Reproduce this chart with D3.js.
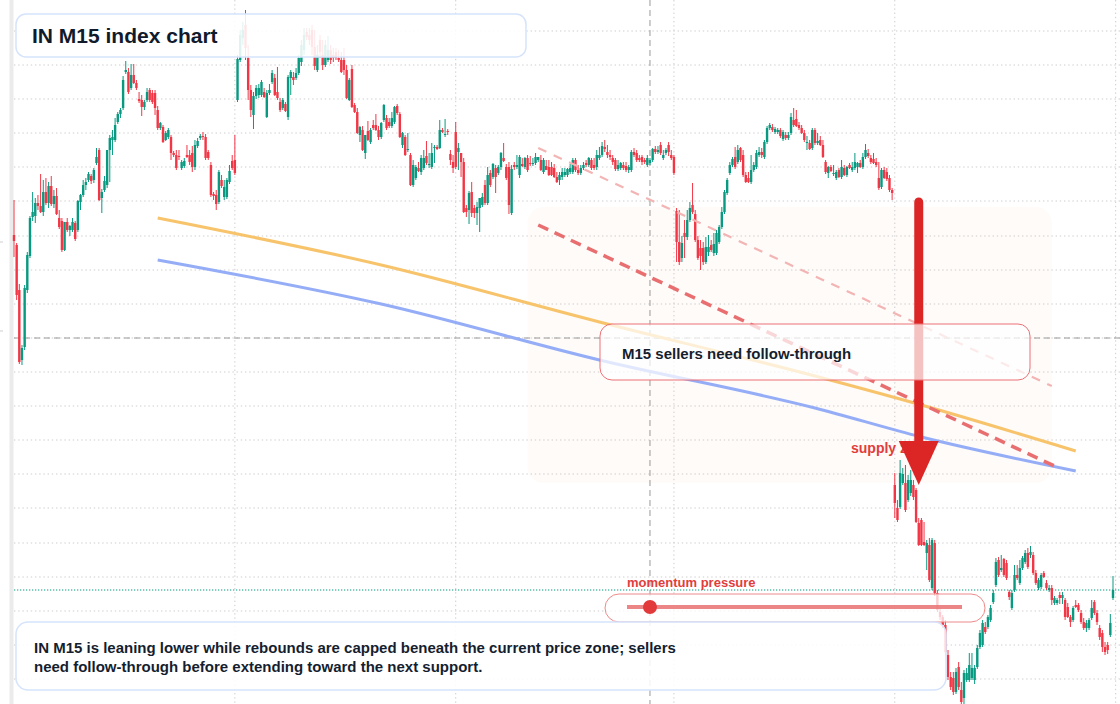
<!DOCTYPE html>
<html><head><meta charset="utf-8">
<script src="https://cdn.jsdelivr.net/npm/d3@7"></script>
<style>html,body{margin:0;padding:0;background:#fff;overflow:hidden}svg{display:block;font-family:"Liberation Sans",Arial,Helvetica,sans-serif}</style>
</head><body><svg id="chart" width="1120" height="704"></svg>
<script>
// ---- M15 candles (index points) ----
const open = [
765,755,710,640,653,710,744,783,784,797,794,788,808,797,814,796,804,782,779,750,
778,770,770,777,770,798,805,815,820,824,820,837,850,802,810,815,850,860,860,878,
886,892,928,928,912,925,917,901,900,893,900,910,907,907,890,872,873,860,863,863,
847,845,844,832,834,845,845,847,833,854,862,864,863,848,835,806,805,798,820,803,
803,818,839,840,900,940,962,975,942,910,885,904,905,905,908,883,907,918,922,908,
898,892,896,883,922,
923,922,927,938,950,968,965,970,953,930,960,945,935,940,950,945,948,942,940,940,
930,900,931,895,888,865,870,847,869,858,875,875,870,863,880,882,878,874,878,894,
886,855,863,850,845,815,822,832,828,832,844,835,833,852,853,852,870,865,869,846,
838,868,848,847,838,792,790,808,792,787,792,795,815,797,827,823,832,827,833,842,
833,833,787,835,833,825,836,833,842,837,836,837,840,840,828,834,833,833,832,823,
820,823,825,
825,828,828,840,830,827,832,837,835,840,835,833,842,845,853,848,845,842,840,831,
832,835,834,830,830,848,847,842,843,840,835,837,840,851,848,855,842,847,855,845,
843,789,758,742,767,763,780,795,786,760,752,752,738,748,755,747,747,758,773,788,
807,827,835,843,838,852,845,825,822,818,830,833,845,848,843,858,872,873,868,868,
870,861,865,862,867,880,881,875,872,867,857,857,852,870,857,860,855,838,827,833,
826,822,830,823,832,825,835,830,832,833,837,833,843,847,842,841,838,822,813,830,
828,822,810,
515,492,493,517,517,500,507,515,510,477,480,458,447,455,412,457,407,388,383,375,
345,323,322,308,333,310,302,320,320,322,320,333,353,355,373,373,380,398,415,440,
430,441,437,408,392,410,425,417,432,438,447,445,445,427,412,413,427,417,410,412,
397,397,405,402,400,393,383,380,395,395,387,378,372,372,382,398,387,372,367,353,
355,365,402];
const high = [
800,757,716,655,715,748,784,808,802,805,826,820,822,818,824,810,812,790,782,778,
782,775,782,779,800,806,820,822,828,826,832,852,852,811,824,850,865,870,882,888,
892,924,939,932,936,936,920,908,905,900,912,912,910,910,894,878,875,869,872,865,
849,850,850,840,842,855,850,854,860,862,866,868,866,850,838,808,810,830,825,820,
822,835,845,865,945,970,978,990,955,915,908,915,916,920,912,910,916,930,926,933,
902,902,898,925,930,
928,932,945,960,972,972,972,975,970,955,965,960,960,964,955,952,952,950,948,952,
935,922,935,897,892,874,874,865,879,872,880,886,874,878,896,885,882,888,894,896,
888,868,865,867,847,840,835,838,845,850,859,847,857,855,855,880,872,881,871,850,
845,878,857,847,842,795,809,818,795,798,802,807,820,833,830,837,835,835,848,857,
836,838,835,838,845,845,842,843,845,844,842,847,843,845,842,840,840,838,836,828,
828,832,832,
832,836,842,842,835,835,838,840,843,842,842,850,853,858,860,855,850,845,842,840,
838,838,838,835,850,852,850,845,845,842,845,842,852,854,854,858,850,852,858,850,
845,792,790,764,780,790,798,817,790,764,760,758,763,765,760,767,770,775,793,810,
822,838,843,853,855,853,850,828,828,845,838,850,853,852,860,874,877,876,873,872,
872,870,868,868,887,892,890,878,875,870,864,860,872,872,867,864,860,840,834,835,
835,830,832,840,835,834,837,838,847,838,840,847,856,851,845,847,842,838,832,833,
832,825,812,
527,500,540,532,535,525,530,520,512,482,482,478,460,462,462,460,410,392,385,380,
350,328,328,332,338,318,330,332,347,347,335,355,370,380,378,385,395,410,442,443,
445,442,440,410,410,435,435,440,444,450,452,454,448,430,422,427,429,420,415,415,
404,402,408,408,402,397,385,394,400,397,390,382,380,382,400,400,390,375,370,358,
358,386,424];
const low = [
743,700,636,635,650,707,742,779,777,790,787,784,795,792,794,792,785,771,748,749,
768,764,768,759,768,790,803,810,818,816,817,835,799,787,808,812,818,845,858,876,
882,890,926,906,910,916,910,897,884,890,898,898,896,885,870,870,857,859,861,840,
843,830,840,830,832,842,835,828,830,852,860,860,840,840,803,800,790,796,812,800,
801,816,830,825,898,938,955,940,900,883,871,901,902,903,902,882,905,916,904,900,
888,890,888,880,905,
915,920,925,934,945,960,955,945,930,928,942,930,933,938,936,938,940,938,927,925,
901,899,892,887,866,858,849,841,859,856,870,869,860,861,878,870,872,872,876,885,
862,852,844,848,814,813,820,828,825,830,835,832,831,837,850,851,867,863,865,835,
827,831,830,823,787,783,776,783,782,775,768,793,795,795,813,821,807,825,830,838,
820,786,785,830,831,822,833,831,828,834,834,835,838,829,826,830,824,824,822,817,
815,820,823,
823,826,826,828,825,825,830,833,833,830,830,830,840,843,848,842,840,835,829,829,
830,830,828,827,828,843,838,838,835,836,833,835,838,846,846,845,840,845,844,840,
825,738,735,738,742,760,778,786,758,740,730,735,736,744,748,744,745,756,771,786,
805,825,833,831,836,838,823,817,817,816,828,831,843,842,841,856,870,868,866,866,
862,859,860,860,865,873,873,870,866,858,850,850,850,855,855,854,842,826,822,828,
824,820,822,821,824,823,831,828,830,827,832,831,841,842,836,836,833,810,811,821,
819,808,800,
482,478,491,515,488,498,504,500,477,454,454,454,430,418,410,404,388,380,372,344,
320,310,305,306,310,296,296,318,318,320,316,331,351,353,366,371,378,396,413,423,
428,423,420,400,390,408,420,415,430,436,431,442,425,415,410,411,422,410,408,395,
395,395,396,396,380,382,373,378,392,388,376,370,368,370,380,385,375,360,348,345,
346,363,400];
const close = [
759,705,638,652,712,745,782,788,797,794,788,808,797,814,796,804,786,773,750,778,
770,774,778,761,799,805,815,818,826,819,830,843,800,808,819,850,862,863,875,886,
890,920,930,908,925,917,912,899,893,898,908,900,898,892,872,877,858,867,870,847,
845,832,843,838,839,843,838,833,855,859,864,863,842,842,805,804,796,828,814,813,
820,829,832,827,941,965,970,952,910,890,904,912,912,918,903,907,910,927,905,902,
890,900,889,923,928,
920,927,942,955,965,963,960,953,934,945,948,935,955,950,940,942,942,940,928,930,
902,920,893,888,867,873,850,865,860,870,872,870,863,877,895,872,874,882,893,887,
863,867,845,851,815,835,833,829,842,842,837,836,847,853,851,870,868,866,868,840,
832,833,852,838,788,788,807,787,787,793,802,803,797,825,815,836,823,833,847,839,
822,795,831,833,835,843,834,842,830,836,837,843,843,830,840,830,825,825,823,818,
825,828,828,
831,832,840,830,827,832,835,835,842,832,832,845,845,854,851,845,843,838,831,835,
837,832,830,833,848,845,840,840,838,838,842,840,851,848,850,847,845,850,848,842,
827,758,738,757,763,780,792,788,760,742,744,738,753,753,750,756,767,773,788,808,
820,835,841,833,850,840,825,818,818,830,835,847,848,845,858,872,875,870,871,870,
864,868,862,865,883,875,874,872,867,860,858,851,870,857,859,855,843,828,833,829,
827,828,823,833,825,833,832,833,838,837,833,843,850,844,838,837,835,812,830,822,
821,810,807,
497,480,527,526,490,520,520,503,478,455,455,455,457,420,460,407,390,383,375,348,
323,313,308,328,313,298,327,327,335,332,332,352,367,377,368,383,392,407,438,425,
432,425,422,403,407,425,422,432,442,447,433,448,427,417,420,425,423,412,412,400,
402,400,402,405,383,383,378,392,393,390,378,372,377,380,392,387,378,363,353,348,
350,377,410];

// ---- overlays (candle index / price) ----
const gridLevels = [969,935,901,867,833,799,764,730,696,662,628,594,560,526,492,457,423,389,355,321];
const timeTicks = [83,166,248,331,414];
const axisMarks = [758,669];
const crosshairIdx = 239, crosshairPrice = 662;
const emaFastIdx = [54,138,220,301,341,399];
const emaFastVal = [782,735,678,624,595,549];
const emaSlowIdx = [54,138,220,301,341,399];
const emaSlowVal = [740,696,640,592,563,529];
const trendMainIdx = [197,391], trendMainVal = [775,534];
const trendFaintIdx = [197,390], trendFaintVal = [852,614];
const zoneIdx = [193,390], zoneVal = [517,793];
const arrowIdx = 340, arrowFrom = 798, arrowHeadBase = 559, arrowTip = 515;
const titleText = "IN M15 index chart";
const calloutText = "M15 sellers need follow-through";
const zoneLabel = "supply zone";
const momentumLabel = "momentum pressure";
const momentumValue = 239; // dot position (index)
const summaryLines = ["IN M15 is leaning lower while rebounds are capped beneath the current price zone; sellers",
                      "need follow-through before extending toward the next support."];

const W = 1120, H = 704, N = open.length;
const UP = "#089981", DN = "#f23645";
const x = d3.scaleLinear().domain([0, N - 1]).range([14, 1113]);
const y = d3.scaleLinear().domain([296, 1000]).range([H, 0]);
const svg = d3.select("#chart");

svg.append("rect").attr("width", W).attr("height", H).attr("fill", "#fff");
svg.append("rect").attr("x", 9.5).attr("y", 0).attr("width", 4).attr("height", H).attr("fill", "#ebebeb");
svg.selectAll(".am").data(axisMarks).join("line")
  .attr("x1", 0).attr("x2", 3).attr("y1", d => y(d)).attr("y2", d => y(d))
  .attr("stroke", "#cfcfcf").attr("stroke-width", 1);

// zone
svg.append("rect")
  .attr("x", x(zoneIdx[0])).attr("y", y(zoneVal[1]))
  .attr("width", x(zoneIdx[1]) - x(zoneIdx[0])).attr("height", y(zoneVal[0]) - y(zoneVal[1]))
  .attr("rx", 16).attr("fill", "#f3d3bd").attr("fill-opacity", 0.09);

// grid
const grid = svg.append("g").attr("stroke", "#cdcdcd").attr("stroke-width", 1).attr("stroke-dasharray", "1.4 2.8");
grid.selectAll(".h").data(gridLevels).join("line")
  .attr("x1", 14).attr("x2", W).attr("y1", d => y(d)).attr("y2", d => y(d));
grid.selectAll(".v").data(timeTicks).join("line")
  .attr("x1", d => x(d)).attr("x2", d => x(d)).attr("y1", 0).attr("y2", H);

// crosshair
const ch = svg.append("g").attr("stroke", "#9a9a9a").attr("stroke-width", 1).attr("stroke-dasharray", "6 4");
ch.append("line").attr("x1", x(crosshairIdx)).attr("x2", x(crosshairIdx)).attr("y1", 0).attr("y2", H);
ch.append("line").attr("x1", 14).attr("x2", W).attr("y1", y(crosshairPrice)).attr("y2", y(crosshairPrice));

// last price line
const lastP = close[N - 1];
svg.append("line").attr("x1", 14).attr("x2", W).attr("y1", y(lastP)).attr("y2", y(lastP))
  .attr("stroke", UP).attr("stroke-width", 1).attr("stroke-dasharray", "1.3 1.7");

// candles
const idx = d3.range(N);
const cg = svg.append("g");
cg.selectAll("line").data(idx).join("line")
  .attr("x1", i => x(i)).attr("x2", i => x(i))
  .attr("y1", i => y(high[i])).attr("y2", i => y(low[i]))
  .attr("stroke", i => close[i] >= open[i] ? UP : DN).attr("stroke-width", 1);
cg.selectAll("rect").data(idx).join("rect")
  .attr("x", i => x(i) - 1.2).attr("width", 2.4)
  .attr("y", i => y(Math.max(open[i], close[i])))
  .attr("height", i => Math.max(1, Math.abs(y(open[i]) - y(close[i]))))
  .attr("fill", i => close[i] >= open[i] ? UP : DN);

// EMA curves
const curve = d3.line().x(d => x(d[0])).y(d => y(d[1])).curve(d3.curveMonotoneX);
svg.append("path").attr("d", curve(emaFastIdx.map((d, k) => [d, emaFastVal[k]])))
  .attr("fill", "none").attr("stroke", "#f7c46c").attr("stroke-width", 3);
svg.append("path").attr("d", curve(emaSlowIdx.map((d, k) => [d, emaSlowVal[k]])))
  .attr("fill", "none").attr("stroke", "#94adf6").attr("stroke-width", 3);

// trend lines
svg.append("line").attr("x1", x(trendFaintIdx[0])).attr("y1", y(trendFaintVal[0]))
  .attr("x2", x(trendFaintIdx[1])).attr("y2", y(trendFaintVal[1]))
  .attr("stroke", "#f3b4b4").attr("stroke-width", 2.2).attr("stroke-dasharray", "9 8");
svg.append("line").attr("x1", x(trendMainIdx[0])).attr("y1", y(trendMainVal[0]))
  .attr("x2", x(trendMainIdx[1])).attr("y2", y(trendMainVal[1]))
  .attr("stroke", "#e86e70").attr("stroke-width", 3.5).attr("stroke-dasharray", "11 7");

// zone label
svg.append("text").attr("x", 851).attr("y", 453).text(zoneLabel)
  .attr("font-size", 14).attr("font-weight", 700).attr("fill", "#e23d3d");

// arrow
const ax = x(arrowIdx);
svg.append("line").attr("x1", ax).attr("x2", ax).attr("y1", y(arrowFrom)).attr("y2", y(arrowHeadBase) + 2)
  .attr("stroke", "#dc2626").attr("stroke-width", 9).attr("stroke-linecap", "round");
svg.append("path")
  .attr("d", `M${ax - 20},${y(arrowHeadBase)}L${ax + 20},${y(arrowHeadBase)}L${ax},${y(arrowTip)}Z`)
  .attr("fill", "#dc2626");

// title box
svg.append("rect").attr("x", 16).attr("y", 14).attr("width", 510).attr("height", 43).attr("rx", 10)
  .attr("fill", "#fff").attr("fill-opacity", 0.88).attr("stroke", "#d5e3fb").attr("stroke-width", 1.5);
svg.append("text").attr("x", 32).attr("y", 43).text(titleText)
  .attr("font-size", 21).attr("font-weight", 700).attr("fill", "#111a2b");

// callout box
svg.append("rect").attr("x", 600).attr("y", 324).attr("width", 430).attr("height", 56).attr("rx", 12)
  .attr("fill", "#fff").attr("fill-opacity", 0.72).attr("stroke", "#ec7075").attr("stroke-width", 1);
svg.append("text").attr("x", 622).attr("y", 359).text(calloutText)
  .attr("font-size", 15).attr("font-weight", 700).attr("fill", "#151e2f");

// momentum pill
svg.append("text").attr("x", 627).attr("y", 587).text(momentumLabel)
  .attr("font-size", 13).attr("font-weight", 700).attr("fill", "#e23d3d");
svg.append("rect").attr("x", 605).attr("y", 594).attr("width", 380).attr("height", 28).attr("rx", 14)
  .attr("fill", "#fff").attr("fill-opacity", 0.75).attr("stroke", "#ee8a8a").attr("stroke-width", 1);
svg.append("line").attr("x1", 627).attr("x2", 962).attr("y1", 607).attr("y2", 607)
  .attr("stroke", "#ea7878").attr("stroke-width", 4).attr("stroke-opacity", 0.9);
svg.append("circle").attr("cx", x(momentumValue)).attr("cy", 607).attr("r", 7).attr("fill", "#e23a3a");

// summary box
svg.append("rect").attr("x", 16).attr("y", 622).attr("width", 930).attr("height", 68).attr("rx", 12)
  .attr("fill", "#fff").attr("fill-opacity", 0.86).attr("stroke", "#d5e3fb").attr("stroke-width", 1.5);
svg.append("g").selectAll("text").data(summaryLines).join("text")
  .attr("x", 34).attr("y", (d, k) => 653 + k * 19).text(d => d)
  .attr("font-size", 15).attr("font-weight", 700).attr("fill", "#151e2f");
</script></body></html>
